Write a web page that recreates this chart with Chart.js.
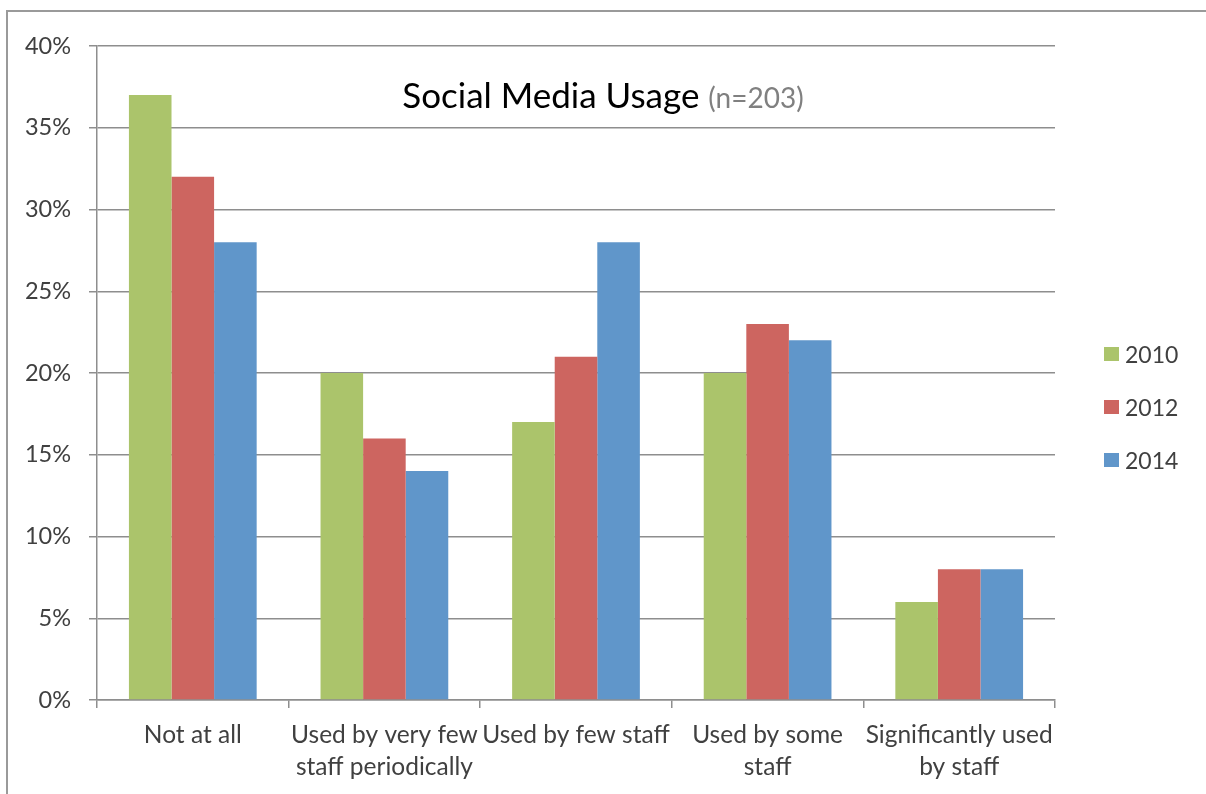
<!DOCTYPE html>
<html><head><meta charset="utf-8">
<script src="https://cdn.jsdelivr.net/npm/chart.js@4/dist/chart.umd.min.js"></script>
<style>html,body{margin:0;padding:0;background:#fff;overflow:hidden}#wrap{width:1206px;height:794px;position:relative}</style>
</head><body><div id="wrap"><canvas id="c" width="1206" height="794"></canvas></div>
<script>
const categories = [["Not at all"], ["Used by very few", "staff periodically"], ["Used by few staff"], ["Used by some", "staff"], ["Significantly used", "by staff"]];
const seriesNames = ["2010", "2012", "2014"];
const values2010 = [37, 20, 17, 20, 6];
const values2012 = [32, 16, 21, 23, 8];
const values2014 = [28, 14, 28, 22, 8];
const yTickValues = [0, 5, 10, 15, 20, 25, 30, 35, 40];
const titleMain = "Social Media Usage";
const titleSub = "(n=203)";

const colors = ["#ABC46B", "#CD6560", "#6096CA"];
const FONT = "Lato, 'Open Sans', sans-serif";
const gridColor = "#8e8e8e";

const borderPlugin = {
  id: 'outerBorder',
  beforeDraw(chart) {
    const ctx = chart.ctx;
    ctx.save();
    ctx.fillStyle = '#fff';
    ctx.fillRect(0, 0, chart.width, chart.height);
    ctx.strokeStyle = '#9a9a9a';
    ctx.lineWidth = 2;
    ctx.beginPath();
    ctx.moveTo(7, chart.height + 5);
    ctx.lineTo(7, 11);
    ctx.lineTo(chart.width + 5, 11);
    ctx.stroke();
    ctx.restore();
  }
};

const titlePlugin = {
  id: 'mixedTitle',
  afterDraw(chart) {
    const ctx = chart.ctx;
    ctx.save();
    ctx.textBaseline = 'alphabetic';
    ctx.textAlign = 'left';
    ctx.font = "35px " + FONT;
    const w1 = ctx.measureText(titleMain + " ").width;
    ctx.font = "28px " + FONT;
    const w2 = ctx.measureText(titleSub).width;
    const x0 = 603 - (w1 + w2) / 2;
    ctx.font = "35px " + FONT;
    ctx.fillStyle = '#000';
    ctx.fillText(titleMain + " ", x0, 108);
    ctx.font = "28px " + FONT;
    ctx.fillStyle = '#808080';
    ctx.fillText(titleSub, x0 + w1, 108);
    ctx.restore();
  }
};

const legendPlugin = {
  id: 'rightLegend',
  afterDraw(chart) {
    const ctx = chart.ctx;
    ctx.save();
    ctx.font = "23px " + FONT;
    ctx.textBaseline = 'middle';
    ctx.textAlign = 'left';
    chart.data.datasets.forEach((ds, i) => {
      const cy = 355 + i * 53;
      ctx.fillStyle = ds.backgroundColor;
      ctx.fillRect(1104, cy - 8, 15, 14);
      ctx.fillStyle = '#404040';
      ctx.fillText(ds.label, 1125, cy + 1);
    });
    ctx.restore();
  }
};

new Chart(document.getElementById('c'), {
  type: 'bar',
  data: {
    labels: categories,
    datasets: [
      { label: seriesNames[0], data: values2010, backgroundColor: colors[0] },
      { label: seriesNames[1], data: values2012, backgroundColor: colors[1] },
      { label: seriesNames[2], data: values2014, backgroundColor: colors[2] }
    ]
  },
  options: {
    responsive: false,
    animation: false,
    devicePixelRatio: 1,
    layout: { padding: { top: 46, right: 151, left: 0, bottom: 0 } },
    datasets: { bar: { categoryPercentage: 3 / 4.5, barPercentage: 1, borderWidth: 0 } },
    plugins: { legend: { display: false }, title: { display: false }, tooltip: { enabled: false } },
    scales: {
      x: {
        grid: { offset: true, drawOnChartArea: false, drawTicks: true, tickLength: 8, color: gridColor, lineWidth: 1.5 },
        border: { color: gridColor, width: 1.5 },
        ticks: { autoSkip: false, maxRotation: 0, minRotation: 0, color: '#404040', padding: 11,
          font: { family: FONT, size: 24.5, lineHeight: 1.31 } },
        afterFit(scale) { scale.height = 94; }
      },
      y: {
        min: 0, max: 40,
        afterBuildTicks(scale) { scale.ticks = yTickValues.map(v => ({ value: v })); },
        grid: { color: gridColor, lineWidth: 1.5, tickLength: 8 },
        border: { color: gridColor, width: 1.5 },
        ticks: { color: '#404040', padding: 18, callback: v => v + '%',
          font: { family: FONT, size: 23.5 } },
        afterFit(scale) { scale.width = 97; }
      }
    }
  },
  plugins: [borderPlugin, titlePlugin, legendPlugin]
});
</script>
</body></html>
